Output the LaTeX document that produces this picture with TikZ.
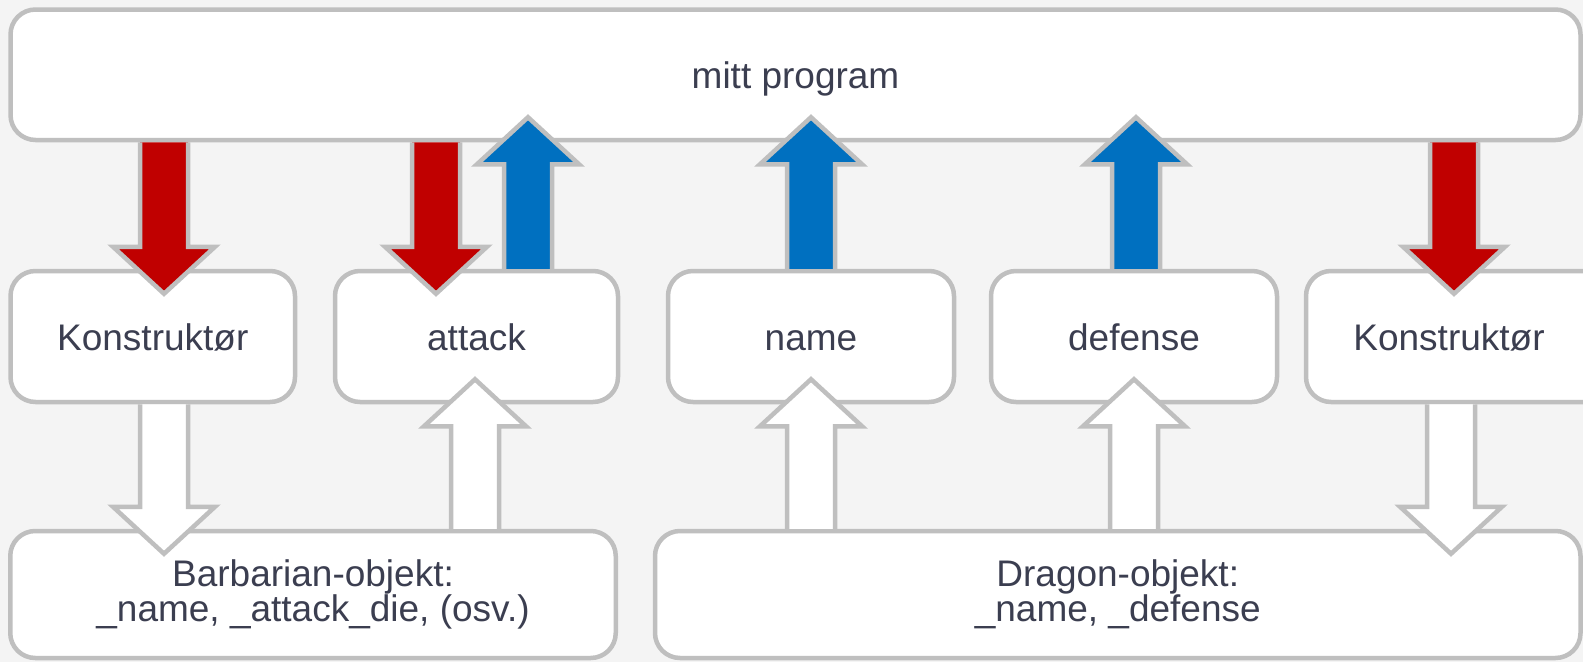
\documentclass[tikz,border=0pt]{standalone}
\usepackage{fontspec}
\setmainfont{Liberation Sans}
\usetikzlibrary{calc}

\definecolor{canvas}{HTML}{F4F4F4}
\definecolor{rim}{HTML}{BFBFBF}
\definecolor{ink}{HTML}{3B3E50}
\definecolor{callred}{HTML}{C00000}
\definecolor{retblue}{HTML}{0070C0}

% Block arrow from a point on a source box edge to a point on a target box edge.
% The head overlaps the target box; the base stays open against the source box.
\newcommand{\blockarrow}[3]{%
  \draw[arrowrim, fill=#1] let \p1=(#2), \p2=(#3), \n1={sign(\y2-\y1)},
      \n2={\y2-(\n1)*22pt}, \n3={\y2+(\n1)*25pt} in
    ({\x1-24pt},\y1) -- ({\x1-24pt},\n2) -- ({\x1-51pt},\n2)
    -- (\x1,\n3)
    -- ({\x1+51pt},\n2) -- ({\x1+24pt},\n2) -- ({\x1+24pt},\y1);
}

\tikzset{
  box/.style={draw=rim, line width=4.5pt, fill=white, rounded corners=25pt,
    text=ink, font=\fontsize{37}{32}\selectfont, inner sep=0pt},
  oneline/.style={text height=27pt, text depth=0pt},
  twoline/.style={align=center},
  arrowrim/.style={draw=rim, line width=4.5pt, line join=miter, miter limit=10},
}

\begin{document}
\begin{tikzpicture}[x=1pt, y=-1pt]
  \clip (0,0) rectangle (1583,662);
  \fill[canvas] (0,0) rectangle (1583,662);

  % caller
  \node[box, oneline, minimum width=1570pt, minimum height=130.5pt] (prog) at (795.5,74.75) {mitt program};

  % methods
  \node[box, oneline, minimum width=284.5pt, minimum height=131pt] (konA) at (152.75,336.5) {Konstruktør};
  \node[box, oneline, minimum width=283pt, minimum height=131pt] (attack) at (476.5,336.5) {attack};
  \node[box, oneline, minimum width=286pt, minimum height=131pt] (name) at (811,336.5) {name};
  \node[box, oneline, minimum width=286pt, minimum height=131pt] (defense) at (1134,336.5) {defense};
  % runs past the right margin; label kept over the visible part
  \node[box, oneline, minimum width=310pt, minimum height=131pt] (konB) at (1461,336.5)
    {\makebox[0pt][c]{\hspace*{-24pt}Konstruktør}};

  % objects
  \node[box, twoline, minimum width=605.5pt, minimum height=127pt] (barb) at (313,594.5) {Barbarian-objekt:\\\_name, \_attack\_die, (osv.)};
  \node[box, twoline, minimum width=925.5pt, minimum height=127pt] (drag) at (1117.75,594.5) {Dragon-objekt:\\\_name, \_defense};

  % arrow columns
  \coordinate (cA) at (164,0);
  \coordinate (cB) at (436,0);
  \coordinate (cC) at (528,0);
  \coordinate (cD) at (811,0);
  \coordinate (cE) at (1136,0);
  \coordinate (cF) at (1454,0);
  \coordinate (cG) at (475,0);
  \coordinate (cH) at (1134,0);
  \coordinate (cI) at (1451,0);

  % calls into the class
  \blockarrow{callred}{prog.south -| cA}{konA.north -| cA}
  \blockarrow{callred}{prog.south -| cB}{attack.north -| cB}
  \blockarrow{callred}{prog.south -| cF}{konB.north -| cF}

  % values handed back
  \blockarrow{retblue}{attack.north -| cC}{prog.south -| cC}
  \blockarrow{retblue}{name.north -| cD}{prog.south -| cD}
  \blockarrow{retblue}{defense.north -| cE}{prog.south -| cE}

  % object data
  \blockarrow{white}{konA.south -| cA}{barb.north -| cA}
  \blockarrow{white}{barb.north -| cG}{attack.south -| cG}
  \blockarrow{white}{drag.north -| cD}{name.south -| cD}
  \blockarrow{white}{drag.north -| cH}{defense.south -| cH}
  \blockarrow{white}{konB.south -| cI}{drag.north -| cI}
\end{tikzpicture}
\end{document}
